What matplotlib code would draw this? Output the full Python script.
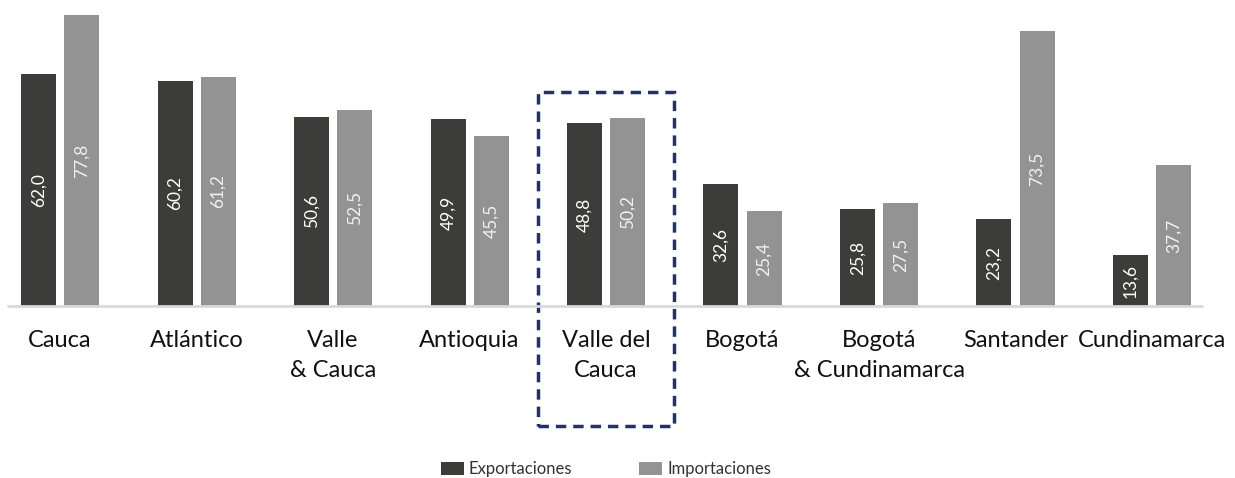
import matplotlib
matplotlib.use("Agg")
import matplotlib.pyplot as plt
from matplotlib.patches import Rectangle, Patch

categories = ["Cauca", "Atlántico", "Valle\n& Cauca", "Antioquia", "Valle del\nCauca",
              "Bogotá", "Bogotá\n& Cundinamarca", "Santander", "Cundinamarca"]
exportaciones = [62.0, 60.2, 50.6, 49.9, 48.8, 32.6, 25.8, 23.2, 13.6]
importaciones = [77.8, 61.2, 52.5, 45.5, 50.2, 25.4, 27.5, 73.5, 37.7]
series_names = ["Exportaciones", "Importaciones"]
highlight = "Valle del\nCauca"

plt.rcParams["font.family"] = ["Lato", "DejaVu Sans"]

W, H = 1235, 478
fig = plt.figure(figsize=(W / 100, H / 100), dpi=100)
# axes: baseline at y=306 px from top, top of max bar at 15 px
ax = fig.add_axes([0, (H - 306) / H, 1, (306 - 15) / H])
ymax = max(exportaciones + importaciones)
ax.set_ylim(0, ymax)
step = 136.5
x0 = 60
ax.set_xlim(-x0 / step, (W - x0) / step)
ax.axis("off")

dark = "#3c3c3b"
gray = "#939393"
bw = 35 / step
off = 21.5 / step
xs = list(range(len(categories)))

ax.bar([x - off for x in xs], exportaciones, width=bw, color=dark, clip_on=False)
ax.bar([x + off for x in xs], importaciones, width=bw, color=gray, clip_on=False)

def fmt(v):
    return f"{v:.1f}".replace(".", ",")

for x, v in zip(xs, exportaciones):
    ax.text(x - off, v / 2, fmt(v), rotation=90, ha="center", va="center",
            color="white", fontsize=12.5)
for x, v in zip(xs, importaciones):
    ax.text(x + off, v / 2, fmt(v), rotation=90, ha="center", va="center",
            color="#f2f2f2", fontsize=12.5)

# baseline
ax.plot([(7 - x0) / step, (1203 - x0) / step], [0, 0], color="#d9d9d9", lw=2,
        clip_on=False, solid_capstyle="butt")

# category labels
ppu = (306 - 15) / ymax
for x, c in zip(xs, categories):
    ax.text(x, -(330 - 306) / ppu, c, ha="center", va="top", fontsize=17,
            linespacing=1.55, color="#111111", clip_on=False)

# highlight dashed box
i = categories.index(highlight)
top = (306 - 92) / ppu
bot = -(426 - 306) / ppu
ax.add_patch(Rectangle((i - 0.5, bot), 1.0, top - bot, fill=False,
                       edgecolor="#1f3270", lw=2.5, ls=(0, (3, 2)), clip_on=False))

handles = [Patch(facecolor=dark), Patch(facecolor=gray)]
fig.legend(handles, series_names, loc="center", bbox_to_anchor=(606 / W, 1 - 469 / H),
           ncol=2, frameon=False, fontsize=12, handlelength=1.4, handleheight=0.8,
           handletextpad=0.3, columnspacing=4.0, labelcolor="#333333")

fig.savefig("out.png", dpi=100)
